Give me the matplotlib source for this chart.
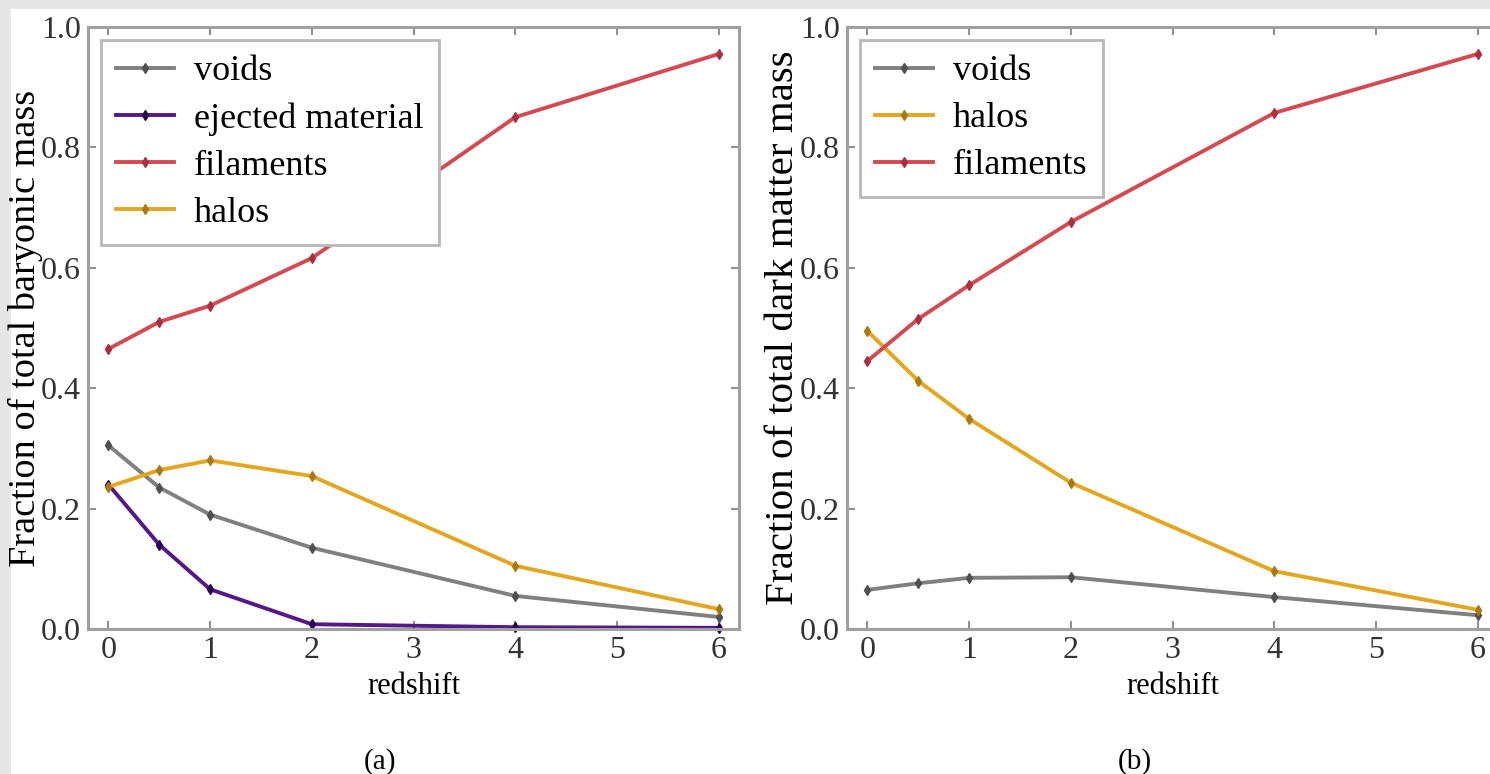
import matplotlib
matplotlib.use("Agg")
import matplotlib.pyplot as plt
from matplotlib.patches import Rectangle

# redshift sample points
redshift = [0, 0.5, 1, 2, 4, 6]

# (a) baryonic mass fractions
bar_voids = [0.305, 0.235, 0.19, 0.135, 0.055, 0.02]
bar_ejected = [0.24, 0.14, 0.066, 0.008, 0.003, 0.002]
bar_filaments = [0.465, 0.51, 0.537, 0.616, 0.85, 0.955]
bar_halos = [0.236, 0.264, 0.28, 0.254, 0.105, 0.033]

# (b) dark matter mass fractions
dm_voids = [0.065, 0.076, 0.085, 0.086, 0.053, 0.023]
dm_halos = [0.495, 0.412, 0.349, 0.243, 0.096, 0.032]
dm_filaments = [0.445, 0.515, 0.571, 0.676, 0.857, 0.955]

GRAY = "#808080"
PURPLE = "#541889"
RED = "#d44a52"
GOLD = "#e2a620"
DARK = {GRAY: "#505050", PURPLE: "#2a0055", RED: "#a83040", GOLD: "#a87a10"}

plt.rcParams["font.family"] = ["Liberation Serif", "DejaVu Serif"]

fig = plt.figure(figsize=(14.9, 7.74), dpi=100, facecolor="#e6e6e6")
fig.patches.append(Rectangle((11 / 1490, 0), 1, 1 - 9 / 774, transform=fig.transFigure,
                             facecolor="white", edgecolor="none", zorder=-10))

ax_a = fig.add_axes([0.0591, 0.1873, 0.4369, 0.778])
ax_b = fig.add_axes([0.5685, 0.1873, 0.4369, 0.778])


def line(ax, y, c, label):
    ax.plot(redshift, y, color=c, lw=2.8, marker="d", ms=5, mfc=DARK[c], mec=DARK[c],
            label=label, clip_on=False)


line(ax_a, bar_voids, GRAY, "voids")
line(ax_a, bar_ejected, PURPLE, "ejected material")
line(ax_a, bar_filaments, RED, "filaments")
line(ax_a, bar_halos, GOLD, "halos")

line(ax_b, dm_voids, GRAY, "voids")
line(ax_b, dm_halos, GOLD, "halos")
line(ax_b, dm_filaments, RED, "filaments")

for ax, ylab, ysize in [(ax_a, "Fraction of total baryonic mass", 27.5),
                        (ax_b, "Fraction of total dark matter mass", 29.5)]:
    ax.set_xlim(-0.2, 6.2)
    ax.set_ylim(0, 1)
    ax.set_xticks(range(7))
    ax.set_yticks([0, 0.2, 0.4, 0.6, 0.8, 1.0])
    ax.set_xlabel("redshift", fontsize=22, labelpad=5)
    ax.set_ylabel(ylab, fontsize=ysize, labelpad=-1)
    ax.tick_params(direction="in", top=True, right=True, length=6, width=1.5,
                   color="#909090", labelsize=23, labelcolor="#333333", pad=5)
    for s in ax.spines.values():
        s.set_color("#a0a0a0")
        s.set_linewidth(2.2)
    leg = ax.legend(loc="upper left", fontsize=26, fancybox=False, framealpha=1,
                    edgecolor="#b8b8b8", handlelength=1.6, handletextpad=0.55,
                    borderpad=0.42, labelspacing=0.38, borderaxespad=0.36)
    leg.get_frame().set_linewidth(2)

fig.text(380 / 1490, 1 - 762 / 774, "(a)", fontsize=21, ha="center", va="center")
fig.text(1135 / 1490, 1 - 762 / 774, "(b)", fontsize=21, ha="center", va="center")

fig.savefig("out.png", dpi=100, facecolor=fig.get_facecolor())
